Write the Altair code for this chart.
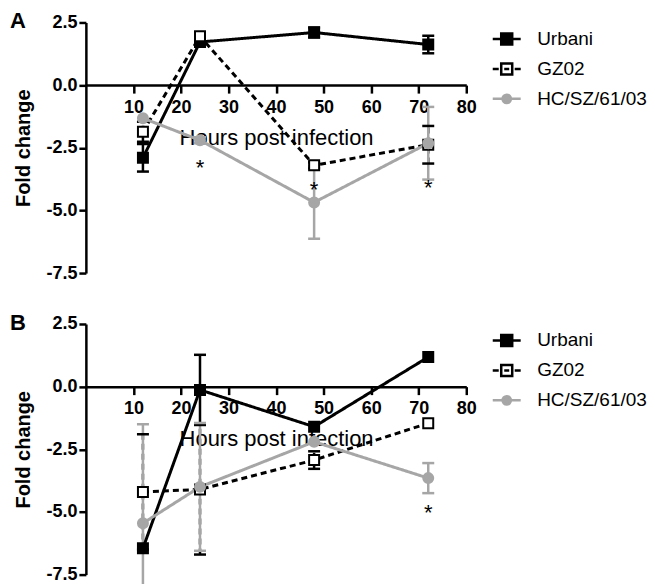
import altair as alt
import pandas as pd

hours = [12, 24, 48, 72]
series_names = ["Urbani", "GZ02", "HC/SZ/61/03"]
x_ticks = [10, 20, 30, 40, 50, 60, 70, 80]
y_ticks = [-7.5, -5.0, -2.5, 0.0, 2.5]

# Panel A
a_urbani = [-2.9, 1.72, 2.1, 1.62]
a_urbani_err = [0.55, 0.0, 0.2, 0.35]
a_gz02 = [-1.86, 1.95, -3.2, -2.38]
a_gz02_err = [0.4, 0.0, 0.12, 0.75]
a_hc = [-1.32, -2.2, -4.68, -2.32]
a_hc_err = [0.0, 0.12, 1.45, 1.45]
a_star_x = [24, 48, 72]
a_star_y = [-3.1, -3.97, -3.9]

# Panel B
b_urbani = [-6.45, -0.13, -1.6, 1.18]
b_urbani_err = [0.0, 1.4, 0.0, 0.0]
b_gz02 = [-4.2, -4.1, -2.93, -1.46]
b_gz02_err = [2.3, 2.6, 0.35, 0.0]
b_hc = [-5.45, -4.0, -2.2, -3.65]
b_hc_err = [3.95, 2.55, 0.0, 0.6]
b_star_x = [72]
b_star_y = [-4.85]

GRAY = "#a6a6a6"
W, H = 381, 251
Y_MIN, Y_MAX = -7.5, 2.5
FONT = "Liberation Sans"

color_range = ["black", "black", GRAY]
fill_range = ["black", "white", GRAY]
dash_range = [[1, 0], [6, 4], [1, 0]]
shape_range = ["square", "square", "circle"]
legend_shapes = [
    "M-1.4,0H1.4M-0.55,-0.55H0.55V0.55H-0.55Z",
    "M-1.4,0H-0.8M0.8,0H1.4M-0.55,-0.55H0.55V0.55H-0.55ZM-0.25,0H0.25",
    "M-1.4,0H1.4M-0.42,0A0.42,0.42 0 1,0 0.42,0A0.42,0.42 0 1,0 -0.42,0Z",
]


def make_df(vals_list, errs_list):
    rows = []
    for name, vals, errs in zip(series_names, vals_list, errs_list):
        for h, v, e in zip(hours, vals, errs):
            rows.append({"hours": h, "fc": v, "err": e, "lo": v - e, "hi": v + e,
                         "series": name, "leg": name})
    return pd.DataFrame(rows)


def panel(letter, df, star_x, star_y):
    xs = alt.Scale(domain=[0, 80], nice=False, zero=False)
    ys = alt.Scale(domain=[Y_MIN, Y_MAX], nice=False, zero=False)
    zero_offset = -(H * (0 - Y_MIN) / (Y_MAX - Y_MIN))
    x_axis = alt.Axis(
        orient="bottom", offset=zero_offset, values=x_ticks, title="Hours post infection",
        grid=False, domainColor="black", domainWidth=2.5, tickColor="black", tickWidth=2.5,
        tickSize=8, labelFontSize=18, labelFontWeight="bold", labelColor="black",
        labelPadding=5, labelFont=FONT, titleFont=FONT, titleFontSize=22,
        titleFontWeight="normal", titleColor="black", titlePadding=11, labelFlush=False,
    )
    y_axis = alt.Axis(
        values=y_ticks, title="Fold change", grid=False, domainColor="black", domainWidth=2.5,
        tickColor="black", tickWidth=2.5, tickSize=7, labelFontSize=18, labelFontWeight="bold",
        labelColor="black", labelPadding=2, labelFont=FONT, titleFont=FONT, titleFontSize=20,
        titleFontWeight="bold", titleColor="black", titlePadding=12,
        labelExpr="(datum.value < 0 ? '-' : '') + format(abs(datum.value), '.1f')",
    )
    X = alt.X("hours:Q", scale=xs, axis=x_axis)
    col = alt.Color("series:N", scale=alt.Scale(domain=series_names, range=color_range), legend=None)
    dash = alt.StrokeDash("series:N", scale=alt.Scale(domain=series_names, range=dash_range), legend=None)

    base = alt.Chart(df)
    errs = base.transform_filter("datum.err > 0")
    rules = errs.mark_rule(strokeWidth=2.5).encode(
        x=X, y=alt.Y("lo:Q", scale=ys, axis=y_axis), y2="hi:Q", color=col, strokeDash=dash)
    cap_lo = errs.mark_tick(orient="horizontal", size=12, thickness=2.5, opacity=1).encode(
        x=X, y=alt.Y("lo:Q", scale=ys, axis=y_axis), color=col)
    cap_hi = errs.mark_tick(orient="horizontal", size=12, thickness=2.5, opacity=1).encode(
        x=X, y=alt.Y("hi:Q", scale=ys, axis=y_axis), color=col)
    lines = base.mark_line(strokeWidth=3).encode(
        x=X, y=alt.Y("fc:Q", scale=ys, axis=y_axis), color=col, strokeDash=dash, detail="series:N")
    points = base.mark_point(size=100, strokeWidth=2, opacity=1).encode(
        x=X, y=alt.Y("fc:Q", scale=ys, axis=y_axis), color=col,
        fill=alt.Fill("series:N", scale=alt.Scale(domain=series_names, range=fill_range), legend=None),
        shape=alt.Shape("series:N", scale=alt.Scale(domain=series_names, range=shape_range), legend=None),
    )
    stars_df = pd.DataFrame({"hours": star_x, "sy": star_y})
    stars = alt.Chart(stars_df).mark_text(text="*", fontSize=22, font=FONT, color="black",
                                          baseline="middle", dy=5).encode(
        x=X, y=alt.Y("sy:Q", scale=ys, axis=y_axis))
    letter_txt = alt.Chart(pd.DataFrame({"t": [letter]})).mark_text(
        align="left", baseline="alphabetic", fontSize=22, fontWeight="bold", font=FONT,
        color="black").encode(text="t:N", x=alt.value(-76), y=alt.value(6))

    leg = alt.Legend(orient="none", legendX=410, legendY=5, title=None, labelFontSize=19,
                     labelFont=FONT, labelColor="black", symbolSize=400, symbolStrokeWidth=2.5,
                     rowPadding=8, labelOffset=19, padding=0, symbolOpacity=1)
    legend_layer = base.transform_filter("false").mark_point(size=400, opacity=1).encode(
        x=X, y=alt.Y("fc:Q", scale=ys, axis=y_axis),
        color=alt.Color("leg:N", scale=alt.Scale(domain=series_names, range=color_range), legend=leg),
        fill=alt.Fill("leg:N", scale=alt.Scale(domain=series_names, range=fill_range), legend=leg),
        shape=alt.Shape("leg:N", scale=alt.Scale(domain=series_names, range=legend_shapes), legend=leg),
    )
    return alt.layer(rules, cap_lo, cap_hi, lines, points, stars, letter_txt, legend_layer).resolve_scale(
        color="independent", fill="independent", shape="independent", strokeDash="independent"
    ).properties(width=W, height=H, view=alt.ViewBackground(stroke="transparent", strokeWidth=0))


pa = panel("A", make_df([a_urbani, a_gz02, a_hc], [a_urbani_err, a_gz02_err, a_hc_err]), a_star_x, a_star_y)
pb = panel("B", make_df([b_urbani, b_gz02, b_hc], [b_urbani_err, b_gz02_err, b_hc_err]), b_star_x, b_star_y)

chart = alt.vconcat(pa, pb, spacing=30).properties(
    padding={"left": 2, "top": 2, "right": 0, "bottom": 0}
).configure_view(stroke="transparent", strokeWidth=0).configure(font=FONT)

chart.save("out.html", embed_options={"renderer": "svg", "actions": False})
